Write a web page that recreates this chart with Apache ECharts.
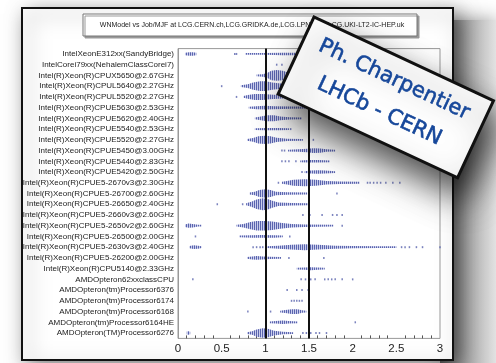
<!DOCTYPE html>
<html>
<head>
<meta charset="utf-8">
<script src="https://cdn.jsdelivr.net/npm/echarts@6/dist/echarts.min.js"></script>
<style>
  html, body { margin: 0; background: #fff; }
  #chart { width: 496px; height: 363px; }
</style>
</head>
<body>
<div id="chart"></div>
<script>
const titleText = "WNModel vs Job/MJF at LCG.CERN.ch,LCG.GRIDKA.de,LCG.LPNHE.fr,LCG.UKI-LT2-IC-HEP.uk";

const cpus = [
  "IntelXeonE312xx(SandyBridge)",
  "IntelCorei79xx(NehalemClassCorei7)",
  "Intel(R)Xeon(R)CPUX5650@2.67GHz",
  "Intel(R)Xeon(R)CPUL5640@2.27GHz",
  "Intel(R)Xeon(R)CPUL5520@2.27GHz",
  "Intel(R)Xeon(R)CPUE5630@2.53GHz",
  "Intel(R)Xeon(R)CPUE5620@2.40GHz",
  "Intel(R)Xeon(R)CPUE5540@2.53GHz",
  "Intel(R)Xeon(R)CPUE5520@2.27GHz",
  "Intel(R)Xeon(R)CPUE5450@3.00GHz",
  "Intel(R)Xeon(R)CPUE5440@2.83GHz",
  "Intel(R)Xeon(R)CPUE5420@2.50GHz",
  "Intel(R)Xeon(R)CPUE5-2670v3@2.30GHz",
  "Intel(R)Xeon(R)CPUE5-26700@2.60GHz",
  "Intel(R)Xeon(R)CPUE5-26650@2.40GHz",
  "Intel(R)Xeon(R)CPUE5-2660v3@2.60GHz",
  "Intel(R)Xeon(R)CPUE5-2650v2@2.60GHz",
  "Intel(R)Xeon(R)CPUE5-26500@2.00GHz",
  "Intel(R)Xeon(R)CPUE5-2630v3@2.40GHz",
  "Intel(R)Xeon(R)CPUE5-26200@2.00GHz",
  "Intel(R)Xeon(R)CPU5140@2.33GHz",
  "AMDOpteron62xxclassCPU",
  "AMDOpteron(tm)Processor6376",
  "AMDOpteron(tm)Processor6174",
  "AMDOpteron(tm)Processor6168",
  "AMDOpteron(tm)Processor6164HE",
  "AMDOpteron(TM)Processor6276",
];

// [row, [[job/MJF, density], ...]]  one entry per continuous run of jobs
const violinRuns = [
  [0, [[0.08, 2], [0.13, 3], [0.17, 3], [0.21, 2]]],
  [0, [[0.77, 1.5], [1.0, 1.5], [1.2, 2], [1.6, 2]]],
  [2, [[0.9, 1.5], [0.97, 2], [1.02, 4], [1.07, 8], [1.13, 9], [1.2, 8], [1.28, 4], [1.36, 2.5], [1.5, 1.5]]],
  [3, [[0.72, 1.5], [0.8, 3], [0.86, 6], [0.94, 8], [1.0, 8], [1.08, 6], [1.2, 4], [1.35, 2], [1.5, 1.5]]],
  [4, [[0.75, 1.5], [0.8, 3], [0.88, 5], [0.97, 5], [1.05, 4], [1.15, 3], [1.3, 2], [1.5, 1.5]]],
  [5, [[0.81, 1.5], [0.9, 2.5], [1.0, 3], [1.1, 2.5], [1.3, 2], [1.55, 1.5]]],
  [6, [[0.88, 1.5], [0.95, 3], [1.02, 5], [1.1, 5], [1.17, 3], [1.28, 2], [1.42, 1.5]]],
  [7, [[0.88, 1.5], [1.0, 1.8], [1.15, 1.8], [1.27, 1.5]]],
  [8, [[0.79, 1.5], [0.86, 3], [0.92, 6], [1.0, 7], [1.06, 6], [1.13, 3.5], [1.25, 2], [1.43, 1.5]]],
  [9, [[1.26, 1.5], [1.38, 2], [1.48, 3], [1.55, 4], [1.63, 3.5], [1.7, 2], [1.8, 1.5]]],
  [10, [[1.4, 1.5], [1.5, 2], [1.6, 2], [1.74, 1.5]]],
  [11, [[1.45, 1.5], [1.52, 2.5], [1.6, 3], [1.68, 2.5], [1.8, 1.5]]],
  [12, [[1.19, 1.5], [1.25, 3], [1.32, 5], [1.45, 6], [1.58, 5], [1.7, 3], [1.85, 2], [2.08, 1.5]]],
  [13, [[0.82, 1.5], [0.88, 3], [0.93, 6], [1.0, 7], [1.06, 6], [1.12, 3], [1.25, 2], [1.48, 1.5]]],
  [14, [[0.78, 1.5], [0.84, 4], [0.9, 8], [0.97, 10], [1.02, 9], [1.08, 6], [1.15, 3], [1.3, 2], [1.49, 1.5]]],
  [16, [[0.08, 2], [0.12, 3.5], [0.17, 3], [0.23, 1.5], [0.27, 1.5]]],
  [16, [[0.67, 1.5], [0.75, 3], [0.83, 6], [0.9, 8], [1.0, 8], [1.08, 7], [1.17, 5], [1.3, 3], [1.45, 2], [1.78, 1.5]]],
  [17, [[0.7, 1.5], [0.85, 2], [0.95, 2.2], [1.1, 2], [1.2, 1.5]]],
  [18, [[0.13, 2], [0.18, 3], [0.23, 2.5], [0.27, 1.5]]],
  [18, [[1.02, 1.5], [1.15, 2.5], [1.3, 4], [1.45, 5], [1.6, 4], [1.8, 2.5], [2.0, 2], [2.3, 1.5], [2.5, 1.5]]],
  [19, [[0.79, 1.5], [0.85, 2.5], [0.9, 3], [0.97, 2.5], [1.05, 2], [1.18, 1.5]]],
  [20, [[1.36, 1.5], [1.45, 2], [1.52, 2.5], [1.6, 1.8], [1.68, 1.5]]],
  [24, [[1.17, 1.5], [1.23, 2.5], [1.3, 4], [1.37, 4], [1.42, 2], [1.47, 1.5]]],
  [25, [[1.05, 1.5], [1.12, 2], [1.2, 3], [1.27, 2], [1.37, 1.5]]],
  [26, [[0.1, 2.5], [0.12, 3], [0.14, 2]]],
  [26, [[0.79, 1.5], [0.85, 3], [0.9, 6], [0.97, 8], [1.03, 7], [1.1, 4], [1.2, 2], [1.32, 1.5]]],
];

// single jobs  [job/MJF, row]
const outliers = [
  [0.65, 0], [0.67, 0],
  [1.13, 1], [1.19, 1],
  [0.5, 3], [0.67, 4],
  [1.77, 6], [1.29, 7], [1.55, 8],
  [1.19, 9], [1.22, 9],
  [1.19, 10], [1.23, 10], [1.27, 10], [1.35, 10],
  [1.42, 11],
  [1.15, 12], [2.17, 12], [2.2, 12], [2.24, 12], [2.28, 12], [2.32, 12], [2.38, 12], [2.46, 12], [2.54, 12],
  [1.82, 13],
  [0.45, 14], [0.74, 14],
  [1.43, 15], [1.51, 15], [1.65, 15], [1.77, 15], [1.82, 15], [1.88, 15],
  [1.88, 16],
  [0.2, 17], [1.28, 17],
  [0.86, 18], [0.9, 18], [0.94, 18], [0.97, 18], [2.56, 18], [2.6, 18], [2.65, 18], [2.73, 18], [2.8, 18], [3.0, 18],
  [1.27, 19], [1.67, 19],
  [0.17, 21], [1.41, 21], [1.46, 21], [1.52, 21], [1.57, 21], [1.68, 21], [1.72, 21], [1.76, 21], [1.8, 21], [1.88, 21], [2.0, 21],
  [1.25, 22], [1.36, 22], [1.42, 22], [1.49, 22],
  [1.3, 23], [1.33, 23], [1.36, 23], [1.39, 23], [1.42, 23],
  [0.8, 24], [1.06, 24],
  [2.03, 25],
  [1.43, 26], [1.47, 26], [1.52, 26], [1.58, 26], [1.62, 26], [1.7, 26],
];

const refLines = [1, 1.5];
const xTicks = [0, 0.5, 1, 1.5, 2, 2.5, 3];

const DENS_PX = 0.6; // half height in px per density unit
const markColor = "#5a64ae";

function stripePattern() {
  const c = document.createElement("canvas");
  c.width = 2;
  c.height = 2;
  const ctx = c.getContext("2d");
  ctx.fillStyle = "#c9cdec";
  ctx.fillRect(0, 0, 2, 2);
  ctx.fillStyle = markColor;
  ctx.fillRect(0, 0, 1, 2);
  return { image: c, repeat: "repeat" };
}
const stripes = stripePattern();

function renderViolin(params, api) {
  const row = api.value(1);
  const knots = violinRuns[params.dataIndex][1];
  const top = [];
  const bottom = [];
  knots.forEach(([v, d]) => {
    const p = api.coord([v, row]);
    const h = Math.max(d * DENS_PX, 0.8);
    top.push([p[0], p[1] - h]);
    bottom.unshift([p[0], p[1] + h]);
  });
  return {
    type: "polygon",
    shape: { points: top.concat(bottom) },
    style: { fill: stripes },
  };
}

const font = "Liberation Sans";
const chart = echarts.init(document.getElementById("chart"));
const deg = Math.PI / 180;
const stickerFont = '21px "DejaVu Sans"';

chart.setOption({
  backgroundColor: "#fff",
  animation: false,
  grid: { left: 178, right: 56, top: 48.6, bottom: 24.6, show: true, borderColor: "#999", borderWidth: 1 },
  xAxis: {
    type: "value",
    min: 0,
    max: 3,
    interval: 0.5,
    axisLine: { lineStyle: { color: "#888", width: 1 } },
    axisTick: { inside: true, length: 6, lineStyle: { color: "#555" } },
    minorTick: { show: true, splitNumber: 5, length: 3, lineStyle: { color: "#555" } },
    splitLine: { show: false },
    axisLabel: {
      color: "#222",
      fontSize: 11.5,
      fontFamily: font,
      margin: 4,
      formatter: (v) => (xTicks.includes(v) ? String(v) : ""),
    },
  },
  yAxis: {
    type: "category",
    data: cpus,
    inverse: true,
    axisLine: { lineStyle: { color: "#999" } },
    axisTick: { inside: true, length: 10, lineStyle: { color: "#999" } },
    axisLabel: { interval: 0, color: "#222", fontSize: 8, fontFamily: font, margin: 4 },
  },
  graphic: [
    {
      // drop shadow of the slide, to the right
      type: "rect",
      z: -20,
      shape: { x: 440, y: 20, width: 56, height: 343 },
      style: {
        fill: new echarts.graphic.LinearGradient(0, 0, 1, 0, [
          { offset: 0, color: "#6d6d6d" },
          { offset: 0.45, color: "#a8a8a8" },
          { offset: 1, color: "#e2e2e2" },
        ]),
        shadowBlur: 20,
        shadowColor: "rgba(0,0,0,0.4)",
      },
    },
    {
      type: "rect",
      z: -10,
      shape: { x: 22, y: 8, width: 431, height: 352 },
      style: {
        fill: "#fff",
        stroke: "#111",
        lineWidth: 2,
        shadowBlur: 20,
        shadowOffsetX: 6,
        shadowOffsetY: 6,
        shadowColor: "rgba(0,0,0,0.5)",
      },
    },
    {
      type: "rect",
      z: 1,
      shape: { x: 83, y: 14, width: 334, height: 22 },
      style: { fill: "#fff", stroke: "#777", lineWidth: 1, shadowOffsetX: 2, shadowOffsetY: 2, shadowColor: "#999" },
    },
    {
      type: "text",
      z: 2,
      x: 252,
      y: 25,
      style: { text: titleText, fill: "#222", font: "7px " + font, align: "center", verticalAlign: "middle" },
    },
    {
      type: "group",
      x: 386,
      y: 97,
      rotation: -25 * deg,
      z: 100,
      children: [
        {
          type: "rect",
          z: 100,
          shape: { x: -99, y: -42, width: 198, height: 85 },
          style: {
            fill: "#fff",
            stroke: "#111",
            lineWidth: 3,
            shadowBlur: 34,
            shadowOffsetX: 8,
            shadowOffsetY: 20,
            shadowColor: "rgba(0,0,0,0.7)",
          },
        },
        {
          type: "text",
          z: 101,
          x: 0,
          y: -19,
          style: { text: "Ph. Charpentier", fill: "#16479a", font: stickerFont, align: "center", verticalAlign: "middle", stroke: "#16479a", lineWidth: 0.6 },
        },
        {
          type: "text",
          z: 101,
          x: 0,
          y: 16,
          style: { text: "LHCb - CERN", fill: "#16479a", font: stickerFont, align: "center", verticalAlign: "middle", stroke: "#16479a", lineWidth: 0.6 },
        },
      ],
    },
  ],
  series: [
    {
      type: "custom",
      renderItem: renderViolin,
      data: violinRuns.map((r) => [r[1][0][0], r[0]]),
      encode: { x: 0, y: 1 },
      clip: true,
      z: 2,
    },
    {
      type: "scatter",
      data: outliers,
      symbol: "rect",
      symbolSize: [1.5, 2],
      itemStyle: { color: markColor },
      z: 3,
      markLine: {
        silent: true,
        symbol: "none",
        label: { show: false },
        lineStyle: { color: "#111", width: 2, type: "solid" },
        data: refLines.map((v) => ({ xAxis: v })),
      },
    },
  ],
});
</script>
</body>
</html>
